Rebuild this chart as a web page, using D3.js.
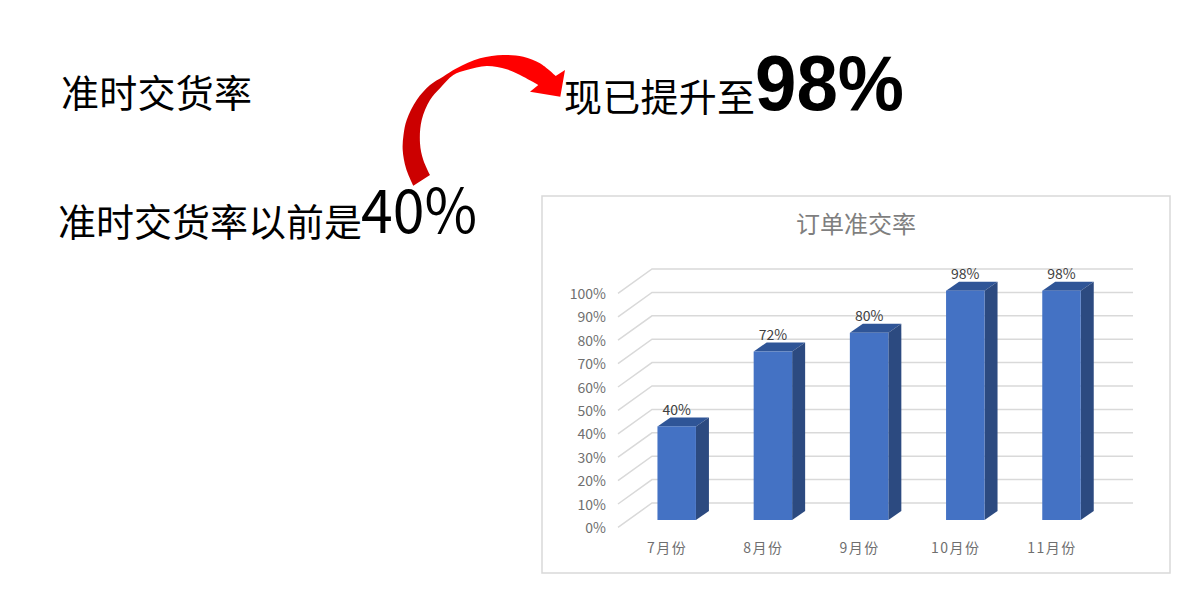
<!DOCTYPE html>
<html><head><meta charset="utf-8">
<style>html,body{margin:0;padding:0;background:#fff}svg{display:block}text{font-family:"Noto Sans CJK SC","Noto Sans",sans-serif}</style>
<script src="https://cdn.jsdelivr.net/npm/d3@7"></script></head>
<body><svg id="c" width="1200" height="600"></svg>
<script>
const categories=["7月份","8月份","9月份","10月份","11月份"];
const values=[40,72,80,98,98];
const dataLabels=["40%","72%","80%","98%","98%"];
const ticks=[0,10,20,30,40,50,60,70,80,90,100];
const chartTitle="订单准交率";

const svg=d3.select("#c");
const defs=svg.append("defs");
const g=defs.append("linearGradient").attr("id","arrow").attr("gradientUnits","userSpaceOnUse")
 .attr("x1",436).attr("y1",88).attr("x2",456).attr("y2",70);
g.append("stop").attr("offset",0).attr("stop-color","#cc0000");
g.append("stop").attr("offset",.3).attr("stop-color","#d40000");
g.append("stop").attr("offset",1).attr("stop-color","#ff0000");

function txt(x,y,s,size,opt={}){
 return svg.append("text").attr("x",x).attr("y",y).text(s).attr("font-size",size)
  .attr("fill",opt.fill||"#000").attr("font-weight",opt.weight||400).attr("text-anchor",opt.anchor||"start");
}
txt(61,107,"准时交货率",38).attr("textLength",191);
txt(58,236,"准时交货率以前是",38).attr("textLength",304);
txt(361,233,"40%",61).attr("textLength",116).attr("lengthAdjust","spacingAndGlyphs");
txt(564,111,"现已提升至",38).attr("textLength",191);
txt(755,110,"98%",77,{weight:700}).style("font-family","'Liberation Sans',sans-serif")
 .attr("textLength",149).attr("lengthAdjust","spacingAndGlyphs");

// arrow outline, traced in reference pixels
const arrowOuter=[[413.3,185.7],[406,168.3],[402.7,150],[403.5,135],[406.7,120],[416.7,100],[430,85],[443,76.7],[456.7,68.3],[480,58.3],[503.3,55],[523.3,56.7],[540,63.3],[555.7,76]];
const arrowInner=[[538.3,85],[523.3,76.7],[506.7,69.3],[486.7,66],[466.7,70],[453.3,75],[440,88.3],[430,100],[421.7,120],[420,143.3],[423.3,160],[430,175]];
const arrowHead=[[530,91.7],[560.3,96.7],[565,70]];
const curve=d3.line().curve(d3.curveCatmullRom);
const outerD=curve(arrowOuter), innerD=curve(arrowInner);
svg.append("path").attr("fill","url(#arrow)").attr("d",
 outerD+"L"+arrowHead.slice().reverse().join("L")+"L"+innerD.slice(1)+"Z");

// frame
svg.append("rect").attr("x",542).attr("y",196).attr("width",628).attr("height",377)
 .attr("fill","#fff").attr("stroke","#d9d9d9").attr("stroke-width",1.5);
txt(856,233,chartTitle,24,{fill:"#7f7f7f",anchor:"middle"});

const yFront=d3.scaleLinear().domain([0,100]).range([520,286]);
const yBack=d3.scaleLinear().domain([0,100]).range([503,269]);
const yLeft=d3.scaleLinear().domain([0,100]).range([527.4,293.4]);
const x=d3.scaleBand().domain(categories).range([628.6,1109.6]).paddingInner(.6).paddingOuter(.3);
const xLeft=618,xBack=652,xRight=1133,dx=13,dy=9;

const grid=svg.append("g").attr("fill","none").attr("stroke","#d9d9d9").attr("stroke-width",1.5);
ticks.forEach(t=>grid.append("path").attr("d",`M${xLeft},${yLeft(t)}L${xBack},${yBack(t)}L${xRight},${yBack(t)}`));
ticks.forEach(t=>txt(606,yLeft(t)+5.5,t+"%",14,{fill:"#6f6f6f",anchor:"end"}));

const bars=svg.append("g").selectAll("g").data(categories).join("g");
bars.each(function(c,i){
 const b=d3.select(this),l=x(c),w=x.bandwidth(),top=yFront(values[i]),bot=yFront(0);
 b.append("path").attr("fill","#2f5597").attr("d",`M${l},${top}L${l+dx},${top-dy}L${l+w+dx},${top-dy}L${l+w},${top}Z`);
 b.append("path").attr("fill","#2c4a80").attr("d",`M${l+w},${top}L${l+w+dx},${top-dy}L${l+w+dx},${bot-dy}L${l+w},${bot}Z`);
 b.append("rect").attr("x",l).attr("y",top).attr("width",w).attr("height",bot-top).attr("fill","#4472c4");
 txt(l+w/2,top-11.5,dataLabels[i],14,{fill:"#404040",anchor:"middle"});
 txt(l+w/2-9.5,552.5,c,14,{fill:"#6f6f6f",anchor:"middle"}).attr("letter-spacing",1.5);
});
</script></body></html>
